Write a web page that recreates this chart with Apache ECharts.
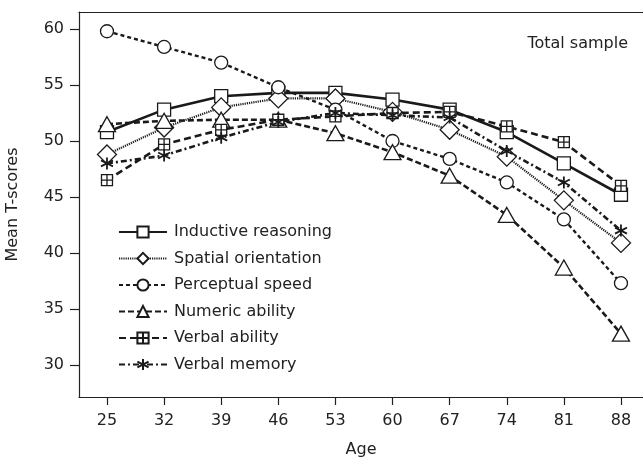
<!DOCTYPE html>
<html>
<head>
<meta charset="utf-8">
<script src="https://cdn.jsdelivr.net/npm/echarts@6/dist/echarts.min.js"></script>
<style>html,body{margin:0;padding:0;background:#fff}#c{width:643px;height:463px}</style>
</head>
<body>
<div id="c"></div>
<script>
const ages = [25,32,39,46,53,60,67,74,81,88];
const yTicks = [30,35,40,45,50,55,60];
const seriesNames = ['Inductive reasoning','Spatial orientation','Perceptual speed','Numeric ability','Verbal ability','Verbal memory'];
const inductive  = [50.8,52.8,54.0,54.3,54.3,53.7,52.8,50.8,48.0,45.2];
const spatial    = [48.8,51.2,53.0,53.8,53.8,52.6,51.0,48.6,44.7,40.9];
const perceptual = [59.8,58.4,57.0,54.8,52.8,50.0,48.4,46.3,43.0,37.3];
const numeric    = [51.5,51.8,51.9,51.9,50.7,49.0,46.9,43.4,38.7,32.8];
const verbalAb   = [46.5,49.7,51.0,51.9,52.2,52.5,52.6,51.3,49.9,46.0];
const verbalMem  = [48.0,48.7,50.3,51.7,52.5,52.3,52.1,49.1,46.3,42.0];

const crossSquare = 'path://M0,0H10V10H0Z M5,0V10 M0,5H10';
const asterisk = 'path://M5,0V10 M0.7,2.5L9.3,7.5 M0.7,7.5L9.3,2.5';

function mk(name, vals, symbol, size, lineStyle, mStroke) {
  return {
    name, type: 'line', data: ages.map((a, i) => [a, vals[i]]), symbol, symbolSize: size,
    lineStyle: Object.assign({color: '#1a1a1a'}, lineStyle),
    itemStyle: {color: '#fff', borderColor: '#1a1a1a', borderWidth: mStroke || 1.3},
    emphasis: {disabled: true},
    animation: false
  };
}

const chart = echarts.init(document.getElementById('c'), null, {renderer: 'canvas'});
const FONT = 'DejaVu Sans';
const axisCol = '#222';
chart.setOption({
  backgroundColor: '#fff',
  animation: false,
  textStyle: {fontFamily: FONT},
  title: {text: 'Total sample', right: 10, top: 31, textStyle: {fontFamily: FONT, fontSize: 16, fontWeight: 'normal', color: '#222'}},
  grid: {left: 79, right: 0, top: 12, bottom: 66, show: false, containLabel: false, outerBoundsMode: 'none'},
  legend: {
    orient: 'vertical', left: 113, top: 219, itemWidth: 48, itemHeight: 14, itemGap: 10.5,
    textStyle: {fontFamily: FONT, fontSize: 16, color: '#222', padding: [0,0,0,2]},
    data: seriesNames
  },
  xAxis: [{
    type: 'value', min: 21.57, max: 90.7,
    name: 'Age', nameLocation: 'middle', nameGap: 45,
    nameTextStyle: {fontFamily: FONT, fontSize: 16, color: '#222'},
    axisLine: {lineStyle: {color: axisCol, width: 1.2}},
    axisTick: {length: 8, customValues: ages, lineStyle: {color: axisCol, width: 1.2}},
    axisLabel: {fontFamily: FONT, fontSize: 16, color: '#222', margin: 16, customValues: ages},
    splitLine: {show: false}
  }, {
    type: 'value', position: 'top', min: 21.57, max: 90.7,
    axisLine: {show: true, lineStyle: {color: axisCol, width: 1.2}},
    axisTick: {show: false}, axisLabel: {show: false}, splitLine: {show: false}
  }],
  yAxis: {
    type: 'value', min: 27.14, max: 61.52,
    name: 'Mean T-scores', nameLocation: 'middle', nameGap: 58,
    nameTextStyle: {fontFamily: FONT, fontSize: 16, color: '#222'},
    axisLine: {show: true, lineStyle: {color: axisCol, width: 1.2}},
    axisTick: {show: true, length: 9, customValues: yTicks, lineStyle: {color: axisCol, width: 1.2}},
    axisLabel: {fontFamily: FONT, fontSize: 16, color: '#222', margin: 15, customValues: yTicks},
    splitLine: {show: false}
  },
  series: [
    mk(seriesNames[0], inductive, 'rect', 13, {width: 2.6, type: 'solid'}),
    mk(seriesNames[1], spatial, 'diamond', [19,19], {width: 2.2, type: [1.2,1]}),
    mk(seriesNames[2], perceptual, 'circle', 13, {width: 2.4, type: [4,3]}),
    mk(seriesNames[3], numeric, 'triangle', [17,15], {width: 2.6, type: [6,3]}),
    mk(seriesNames[4], verbalAb, crossSquare, 11, {width: 2.6, type: [7,4]}),
    mk(seriesNames[5], verbalMem, asterisk, 12, {width: 2.6, type: [6,3,2,3]}, 1.8)
  ]
});
</script>
</body>
</html>
